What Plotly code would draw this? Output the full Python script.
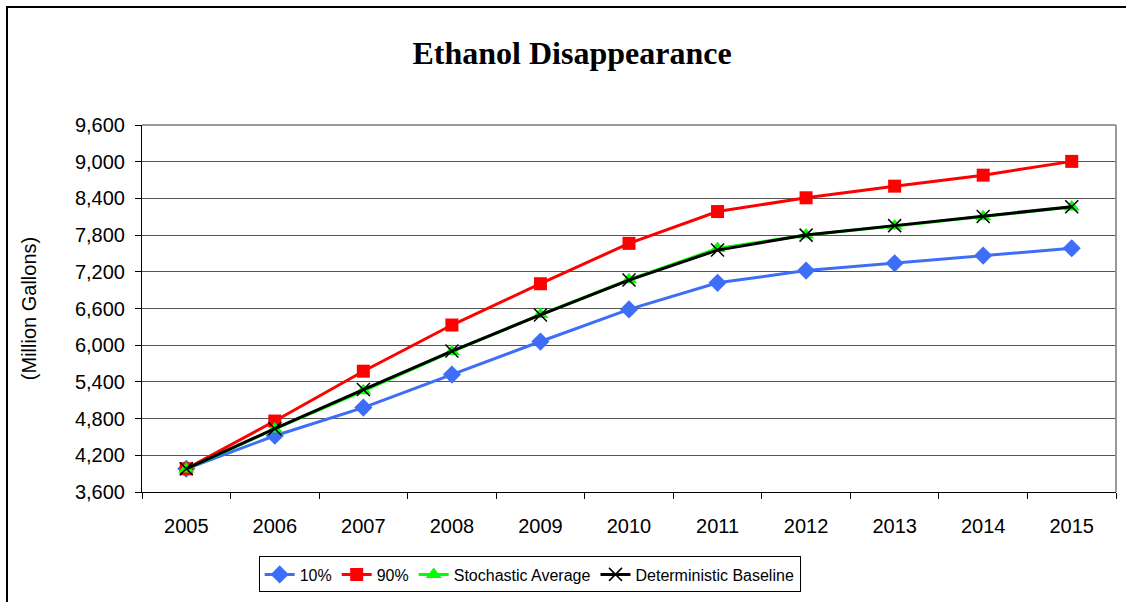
import plotly.graph_objects as go

years = ["2005", "2006", "2007", "2008", "2009", "2010", "2011", "2012", "2013", "2014", "2015"]

p10 = [3980, 4520, 4980, 5520, 6060, 6585, 7020, 7220, 7340, 7465, 7585]
p90 = [3980, 4760, 5575, 6330, 7005, 7665, 8185, 8410, 8600, 8780, 9005]
stoch_avg = [3975, 4630, 5255, 5895, 6500, 7070, 7580, 7800, 7950, 8100, 8260]
det_base = [3980, 4635, 5275, 5905, 6495, 7065, 7555, 7800, 7955, 8105, 8265]

y_ticks = list(range(3600, 9601, 600))

fig = go.Figure()
fig.add_trace(go.Scatter(x=years, y=p10, name="10%", mode="lines+markers",
                         line=dict(color="#3E6EF8", width=3),
                         marker=dict(symbol="diamond", size=14, color="#3E6EF8")))
fig.add_trace(go.Scatter(x=years, y=p90, name="90%", mode="lines+markers",
                         line=dict(color="#FF0000", width=3),
                         marker=dict(symbol="square", size=13, color="#FF0000")))
fig.add_trace(go.Scatter(x=years, y=stoch_avg, name="Stochastic Average", mode="lines+markers",
                         line=dict(color="#00FF00", width=3),
                         marker=dict(symbol="triangle-up", size=14, color="#00FF00")))
fig.add_trace(go.Scatter(x=years, y=det_base, name="Deterministic Baseline", mode="lines+markers",
                         line=dict(color="#000000", width=3),
                         marker=dict(symbol="x-thin-open", size=13,
                                     line=dict(color="#000000", width=1.5))))

fig.update_traces(cliponaxis=False)

fig.update_layout(
    width=1126, height=602,
    margin=dict(l=142, r=10, t=125, b=107),
    paper_bgcolor="white", plot_bgcolor="white",
    font=dict(family="Liberation Sans, Arial", size=20, color="black"),
    title=dict(text="<b>Ethanol Disappearance</b>", x=0.508, xanchor="center",
               y=0.912, yanchor="middle",
               font=dict(family="Liberation Serif, Times New Roman", size=32, color="black")),
    showlegend=True,
    legend=dict(orientation="h", x=0.398, xanchor="center", y=-0.1757, yanchor="top",
                bordercolor="black", borderwidth=1, font=dict(size=16),
                itemwidth=30, tracegroupgap=0),
    xaxis=dict(type="category", range=[-0.5, 10.5], showgrid=False,
               ticks="outside", ticklen=6, tickson="boundaries", tickcolor="black",
               showline=True, linecolor="black", linewidth=1, mirror=False,
               tickfont=dict(size=20), ticklabelstandoff=16),
    yaxis=dict(range=[3600, 9600], tickvals=y_ticks, tickformat=",",
               showgrid=True, gridcolor="#555555", gridwidth=1,
               ticks="outside", ticklen=6, tickcolor="black",
               showline=True, linecolor="black", linewidth=1,
               zeroline=False, tickfont=dict(size=20), ticklabelstandoff=6,
               title=dict(text="(Million Gallons)", font=dict(size=20), standoff=32)),
)

# grey plot-area frame on top and right
fig.add_shape(type="line", xref="paper", yref="paper", x0=0, x1=1, y0=1, y1=1,
              line=dict(color="#999999", width=2))
fig.add_shape(type="line", xref="paper", yref="paper", x0=1, x1=1, y0=0, y1=1,
              line=dict(color="#999999", width=2))
# outer chart border (runs off the right and bottom edges)
fig.add_shape(type="rect", xref="paper", yref="paper", x0=-0.1386, x1=1.05, y0=-0.4, y1=1.3216,
              line=dict(color="black", width=2))

fig.write_html("out.html", config={"displayModeBar": False},
               post_script="document.body.style.margin='0';")
